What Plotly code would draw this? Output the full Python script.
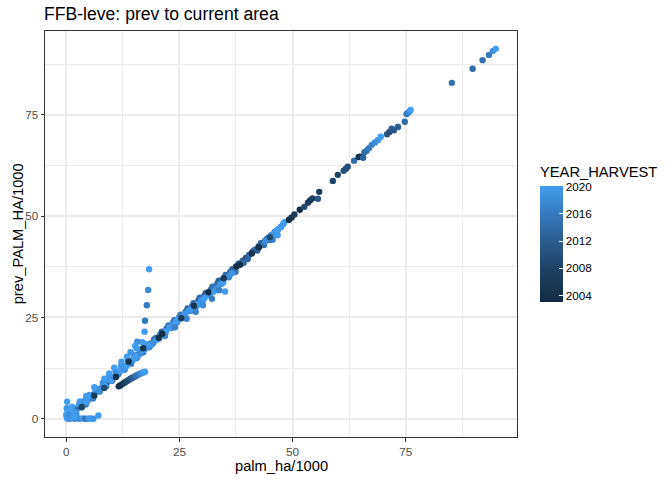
import plotly.graph_objects as go

# main diagonal band, mid years
base_x = [0.5,1.2,1.9,2.6,3.3,4.0,4.7,5.4,6.1,6.8,7.5,8.2,8.9,9.6,10.3,11.0,11.7,12.4,13.1,13.8,14.5,15.2,15.9,16.6,17.3,18.0,18.7,19.4,20.1,20.8,21.5,22.2,22.9,23.6,24.3,25.0,25.7,26.4,27.1,27.8,28.5,29.2,29.9,30.6,31.3,32.0,32.7,33.4,34.1,34.8,35.5,36.2,36.9,37.6,38.3,39.0,39.7,40.4,41.1,41.8,42.5,43.2,43.9,44.6,45.3,46.0,46.7,47.4]
base_y = [0.4,1.3,1.8,2.7,3.2,4.1,4.6,5.5,6.0,6.9,7.4,8.3,8.8,9.7,10.2,11.1,11.6,12.5,13.0,13.9,14.4,15.3,15.8,16.7,17.2,18.1,18.6,19.5,20.0,20.9,21.4,22.3,22.8,23.7,24.2,25.1,25.6,26.4,27.0,27.8,28.4,29.2,29.8,30.5,31.2,31.9,32.6,33.4,34.0,34.7,35.4,36.2,36.8,37.6,38.3,39.0,39.7,40.4,41.1,41.8,42.5,43.2,43.9,44.6,45.3,46.0,46.6,47.3]
base_year = [2009,2012,2010,2013,2011,2014,2009,2012,2010,2013,2011,2014,2009,2012,2010,2013,2011,2014,2009,2012,2010,2013,2011,2014,2009,2012,2010,2013,2011,2014,2009,2012,2010,2013,2011,2014,2009,2012,2010,2013,2011,2014,2009,2012,2010,2013,2011,2014,2009,2012,2010,2013,2011,2014,2009,2012,2010,2013,2011,2014,2009,2012,2010,2013,2012,2015,2016,2017]

# band thickening, mid to bright years, drawn over the base
wide_x = [1.0,2.2,3.1,4.3,5.0,5.9,6.6,7.4,8.1,8.8,9.4,10.1,10.9,11.5,12.1,12.9,13.6,14.3,14.9,15.6,16.2,17.0,17.6,18.4,19.0,19.7,20.5,21.1,21.9,22.6,23.2,23.9,24.5,25.3,25.9,26.8,27.4,28.1,28.8,29.5,30.1,30.8,31.5,32.3,33.0,33.7,34.4,35.2,35.9,36.7,37.4,38.1,39.2,40.1,41.4,42.2,43.0,43.7,44.3,45.1]
wide_y = [1.7,1.4,3.8,3.5,5.8,5.0,7.4,6.7,8.9,8.0,10.4,9.4,11.7,11.0,13.0,12.1,14.5,13.6,15.8,15.0,17.1,16.4,18.4,17.7,18.4,19.9,19.8,21.5,21.2,23.0,22.4,24.3,23.8,25.7,25.1,27.2,26.6,28.5,27.8,29.9,29.0,31.0,30.5,32.6,31.8,34.1,33.4,35.5,34.9,36.9,36.3,38.3,38.5,39.4,41.5,41.5,43.3,42.9,44.3,44.1]
wide_year = [2018,2016,2019,2017,2018,2016,2019,2017,2018,2015,2019,2016,2018,2015,2019,2017,2018,2015,2019,2016,2018,2015,2019,2016,2018,2015,2017,2014,2018,2015,2017,2014,2018,2015,2017,2014,2018,2015,2017,2014,2016,2013,2017,2015,2016,2013,2017,2014,2016,2013,2015,2013,2014,2013,2014,2012,2013,2015,2014,2013]

# bright points along and off the band
bright_x = [0.2,0.1,0.3,0.0,0.5,0.2,0.8,1.0,1.5,2.1,1.3,2.8,3.4,3.0,4.0,4.6,5.2,5.8,4.4,6.5,7.1,6.2,7.8,8.5,9.1,8.4,9.8,10.5,9.5,11.2,11.9,10.6,12.6,13.3,12.2,14.0,13.4,14.6,15.2,14.2,15.9,16.5,15.5,17.1,17.9,16.8,18.6,19.3,20.0,20.7,21.4,22.1,21.8,22.8,23.5,24.2,24.0,24.9,25.6,26.3,27.0,26.6,27.7,28.4,29.1,28.6,29.8,30.5,30.2,31.2,31.9,32.6,33.3,32.2,34.0,34.7,35.1,33.8,36.0,36.6,44.0,44.8,45.5,46.2,46.8,47.5,47.9,48.2,45.6,46.7]
bright_y = [4.2,2.6,1.8,1.0,0.6,0.2,1.2,0.4,1.8,1.6,2.9,3.5,2.8,4.3,4.4,4.2,5.6,5.5,5.6,6.9,6.8,7.8,7.6,8.2,9.6,9.9,9.5,10.2,11.2,11.0,11.8,12.6,12.3,13.0,14.1,13.9,15.3,14.3,14.9,16.4,15.6,16.2,17.4,17.0,17.5,18.9,18.4,18.9,19.5,20.4,21.0,21.7,20.4,22.5,23.2,24.0,22.6,24.7,25.2,25.9,26.6,24.7,27.2,27.7,28.3,26.4,29.2,29.7,28.0,30.5,31.0,31.4,32.2,29.6,33.2,33.7,31.4,31.7,35.2,35.9,43.8,44.7,45.3,46.2,46.8,47.4,48.0,48.5,44.2,45.3]
bright_year = [2020,2019,2020,2020,2019,2020,2020,2018,2020,2019,2020,2020,2018,2020,2019,2020,2020,2019,2020,2020,2018,2020,2019,2020,2018,2020,2020,2019,2020,2018,2020,2020,2019,2020,2020,2018,2020,2019,2020,2019,2020,2018,2020,2020,2019,2020,2020,2018,2020,2019,2020,2020,2018,2020,2019,2020,2017,2020,2018,2020,2019,2017,2020,2018,2020,2017,2019,2020,2018,2020,2019,2020,2018,2016,2019,2020,2020,2017,2018,2019,2018,2019,2020,2019,2020,2020,2019,2020,2017,2020]

# darker spots lying on top of the band
dark_x = [3.4,6.2,8.4,11.0,13.8,17.0,20.4,21.2,25.4,28.2,31.4,34.8,37.6,38.4,41.0,42.6,45.0,49.2,49.8,50.4,51.6,52.6,53.4,53.9,54.4,55.6,55.9]
dark_y = [2.9,5.7,7.6,10.3,14.1,17.4,20.0,21.0,24.8,27.9,31.2,34.7,37.6,38.0,40.8,42.3,44.8,49.1,49.7,50.4,51.6,52.3,53.3,53.9,54.4,54.3,56.0]
dark_year = [2008,2007,2009,2004,2005,2006,2005,2003,2006,2005,2004,2006,2003,2004,2005,2004,2009,2003,2005,2006,2003,2009,2008,2005,2007,2011,2007]

# lower branch below the main band
branch_x = [11.6,11.9,12.3,12.7,13.0,13.4,13.7,14.1,14.4,14.7,15.1,15.4,15.7,16.0,16.3,16.7,17.0,17.4]
branch_y = [8.0,8.2,8.5,8.8,9.0,9.3,9.5,9.8,10.0,10.2,10.4,10.6,10.8,11.0,11.1,11.3,11.4,11.6]
branch_year = [2003,2004,2005,2006,2007,2008,2009,2010,2011,2012,2013,2014,2015,2016,2017,2018,2019,2020]

# near-vertical spike at about 18 thousand ha
spike_x = [15.7,15.2,17.3,17.4,17.8,18.1,18.3]
spike_y = [19.0,18.0,21.5,24.2,28.0,31.8,36.9]
spike_year = [2018,2020,2020,2016,2016,2018,2020]

# points with almost no previous area
floor_x = [0.3,0.8,1.3,2.0,2.5,3.0,3.6,4.2,4.8,5.2,5.6,6.0,7.1,0.1,0.5,1.6]
floor_y = [0.0,0.0,0.1,0.0,0.2,0.0,0.1,0.0,0.0,0.1,0.0,0.0,0.8,0.4,0.9,0.5]
floor_year = [2020,2018,2020,2016,2020,2018,2020,2015,2018,2020,2020,2019,2020,2020,2018,2020]

# sparse upper part of the diagonal
upper_x = [58.9,60.0,61.3,61.8,62.2,63.6,64.6,64.9,65.6,65.9,66.4,66.9,67.5,68.2,68.9,69.5,70.9,71.4,71.9,72.4,73.3,74.8,75.2,75.5,75.8,76.1,85.2,89.8,92.0,93.4,94.3,94.9]
upper_y = [58.7,60.2,61.2,61.7,62.2,63.7,64.6,64.7,64.4,65.8,66.2,66.8,67.6,68.2,68.8,69.6,70.2,70.8,71.6,71.2,72.0,73.3,75.2,75.5,75.8,76.2,82.9,86.4,88.5,89.8,90.8,91.3]
upper_year = [2008,2008,2010,2010,2010,2014,2006,2005,2013,2014,2015,2016,2017,2018,2019,2020,2011,2010,2012,2011,2012,2014,2015,2016,2018,2020,2015,2014,2015,2016,2018,2020]

xs = base_x + wide_x + bright_x + dark_x + branch_x + spike_x + floor_x + upper_x
ys = base_y + wide_y + bright_y + dark_y + branch_y + spike_y + floor_y + upper_y
years = base_year + wide_year + bright_year + dark_year + branch_year + spike_year + floor_year + upper_year

colorscale = [[0, "#132B43"], [0.25, "#1C3F60"], [0.5, "#29598A"], [0.75, "#3679BC"], [1, "#429CF0"]]
font = "Liberation Sans, Arial, sans-serif"
W, H = 672, 480

fig = go.Figure(go.Scatter(
    x=xs, y=ys, mode="markers",
    marker=dict(
        size=6.4, color=years, cmin=2003, cmax=2020, colorscale=colorscale, line=dict(width=0),
        colorbar=dict(
            thickness=23, thicknessmode="pixels", len=115.5, lenmode="pixels",
            x=1.0487, xanchor="left", xpad=0, y=0.3313, yanchor="bottom", ypad=0,
            outlinewidth=0, tickvals=[2004, 2008, 2012, 2016, 2020], tickprefix="\u00a0",
            ticks="inside", tickcolor="white", ticklen=4, tickwidth=0.6,
            tickfont=dict(size=11.7, color="black", family=font),
        ),
    ),
    hoverinfo="skip",
))

def axis(rng):
    return dict(
        range=rng, tickvals=[0, 25, 50, 75], zeroline=False, automargin=False,
        showgrid=True, gridcolor="#EBEBEB", gridwidth=1.6,
        minor=dict(dtick=12.5, tick0=0, showgrid=True, gridcolor="#EBEBEB", gridwidth=0.8, ticks=""),
        ticks="outside", ticklen=3.5, tickwidth=1, tickcolor="#333333",
        tickfont=dict(size=11.7, color="#4D4D4D", family=font),
        showline=True, mirror=True, linecolor="#333333", linewidth=1,
    )

# annotation positions are given in picture pixels and converted to the plot area's paper fractions
def plabel(text, px, py, angle=0, anchor="center"):
    return dict(text=text, x=(px - 44.7) / (517 - 44.7), y=(437 - py) / (437 - 31),
                xref="paper", yref="paper", showarrow=False, textangle=angle,
                xanchor=anchor, yanchor="middle", font=dict(size=14.7, color="black", family=font))

fig.update_layout(
    width=W, height=H, autosize=False, paper_bgcolor="white", plot_bgcolor="white",
    margin=dict(l=44.7, r=155, t=31, b=43, autoexpand=False),
    title=dict(text="FFB-leve: prev to current area", x=44 / W, xanchor="left", y=1 - 13.5 / H, yanchor="middle",
               font=dict(size=17.6, color="black", family=font)),
    xaxis=axis([-4.7, 99.6]),
    yaxis=axis([-4.5, 95.7]),
    showlegend=False,
    annotations=[
        plabel("palm_ha/1000", 281, 466),
        plabel("prev_PALM_HA/1000", 18, 234, angle=-90),
        plabel("YEAR_HARVEST", 538, 172, anchor="left"),
    ],
)
# the page body's default 8px margin would clip the title at the top
fig.write_html("out.html", config={"displayModeBar": False}, post_script="document.body.style.margin='0';")
